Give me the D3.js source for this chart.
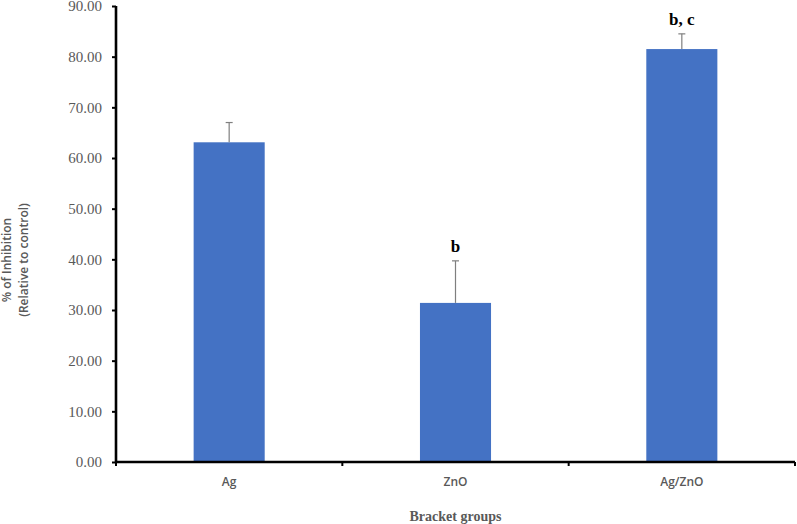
<!DOCTYPE html>
<html>
<head>
  <meta charset="utf-8">
  <title>Inhibition bar chart</title>
  <script src="https://d3js.org/d3.v7.min.js" charset="utf-8"></script>
  <style>
    body { margin: 0; background: #fff; }
  </style>
</head>
<body>
<script>
	var groups = ["Ag", "ZnO", "Ag/ZnO"];
	var means = [63.1, 31.4, 81.5];
	var errors = [3.9, 8.3, 3.0];
	var letters = ["", "b", "b, c"];
	var yTicks = [0, 10, 20, 30, 40, 50, 60, 70, 80, 90];

	var w = 797, h = 524;
	var plotL = 116, plotR = 795, plotT = 6, plotB = 462;

	var svg = d3.select("body").append("svg")
		.attr("width", w)
		.attr("height", h);

	var x = d3.scaleBand()
		.domain(groups)
		.range([plotL, plotR])
		.padding(0);

	var y = d3.scaleLinear()
		.domain([0, 90])
		.range([plotB, plotT]);

	var barW = x.bandwidth() * 0.314;

	// bars
	svg.selectAll("rect.bar")
		.data(groups)
		.enter()
		.append("rect")
		.attr("class", "bar")
		.attr("x", function(d) { return x(d) + x.bandwidth() / 2 - barW / 2; })
		.attr("y", function(d, i) { return y(means[i]); })
		.attr("width", barW)
		.attr("height", function(d, i) { return plotB - y(means[i]); })
		.attr("fill", "#4472C4");

	// error bars (upper only)
	var eb = svg.selectAll("g.err")
		.data(groups)
		.enter()
		.append("g")
		.attr("class", "err")
		.attr("stroke", "#7f7f7f")
		.attr("stroke-width", 1.2);
	eb.append("line")
		.attr("x1", function(d) { return x(d) + x.bandwidth() / 2; })
		.attr("x2", function(d) { return x(d) + x.bandwidth() / 2; })
		.attr("y1", function(d, i) { return y(means[i]); })
		.attr("y2", function(d, i) { return y(means[i] + errors[i]); });
	eb.append("line")
		.attr("x1", function(d) { return x(d) + x.bandwidth() / 2 - 3.5; })
		.attr("x2", function(d) { return x(d) + x.bandwidth() / 2 + 3.5; })
		.attr("y1", function(d, i) { return y(means[i] + errors[i]); })
		.attr("y2", function(d, i) { return y(means[i] + errors[i]); });

	// significance letters
	svg.selectAll("text.sig")
		.data(groups)
		.enter()
		.append("text")
		.attr("class", "sig")
		.text(function(d, i) { return letters[i]; })
		.attr("x", function(d) { return x(d) + x.bandwidth() / 2; })
		.attr("y", function(d, i) { return y(means[i] + errors[i]) - 9; })
		.attr("text-anchor", "middle")
		.attr("font-family", "'Liberation Serif', 'Times New Roman', serif")
		.attr("font-weight", "bold")
		.attr("font-size", 17)
		.attr("fill", "#000");

	// y axis
	var yAxis = svg.append("g")
		.attr("transform", "translate(" + plotL + ",0)")
		.call(d3.axisLeft(y).tickValues(yTicks).tickSize(4).tickPadding(10)
			.tickFormat(function(d) { return d3.format(".2f")(d); }));
	yAxis.select(".domain").attr("stroke", "#000").attr("stroke-width", 2.6)
		.attr("d", "M0," + plotB + "V" + plotT);
	yAxis.selectAll(".tick line").attr("stroke", "#000").attr("stroke-width", 2);
	yAxis.selectAll(".tick text")
		.attr("font-family", "'Liberation Serif', 'Times New Roman', serif")
		.attr("font-size", 15)
		.attr("fill", "#595959");

	// x axis, ticks between categories
	var xAxis = svg.append("g")
		.attr("transform", "translate(0," + plotB + ")");
	xAxis.append("line")
		.attr("x1", plotL).attr("x2", plotR)
		.attr("y1", 0).attr("y2", 0)
		.attr("stroke", "#000").attr("stroke-width", 2.6);
	var bounds = groups.map(function(d) { return x(d); }).concat([x(groups[groups.length - 1]) + x.bandwidth()]);
	xAxis.selectAll("line.tk")
		.data(bounds)
		.enter()
		.append("line")
		.attr("class", "tk")
		.attr("x1", function(d) { return d; })
		.attr("x2", function(d) { return d; })
		.attr("y1", 0).attr("y2", 4)
		.attr("stroke", "#000").attr("stroke-width", 2);
	xAxis.selectAll("text.cat")
		.data(groups)
		.enter()
		.append("text")
		.attr("class", "cat")
		.text(function(d) { return d; })
		.attr("x", function(d) { return x(d) + x.bandwidth() / 2; })
		.attr("y", 24)
		.attr("text-anchor", "middle")
		.attr("font-family", "'Open Sans', 'Noto Sans', sans-serif")
		.attr("font-weight", 600)
		.attr("font-size", 12)
		.attr("fill", "#595959");

	// axis titles
	svg.append("text")
		.text("Bracket groups")
		.attr("x", (plotL + plotR) / 2)
		.attr("y", 521)
		.attr("text-anchor", "middle")
		.attr("font-family", "'Liberation Serif', 'Times New Roman', serif")
		.attr("font-weight", "bold")
		.attr("font-size", 14)
		.attr("fill", "#595959");

	var yt = svg.append("text")
		.attr("transform", "translate(11,260) rotate(-90)")
		.attr("text-anchor", "middle")
		.attr("font-family", "'Open Sans', 'Noto Sans', sans-serif")
		.attr("font-weight", 600)
		.attr("font-size", 12)
		.attr("fill", "#595959");
	yt.append("tspan").attr("x", 0).attr("dy", 0).text("% of Inhibition");
	yt.append("tspan").attr("x", 0).attr("dy", 17).text("(Relative to control)");
</script>
</body>
</html>
